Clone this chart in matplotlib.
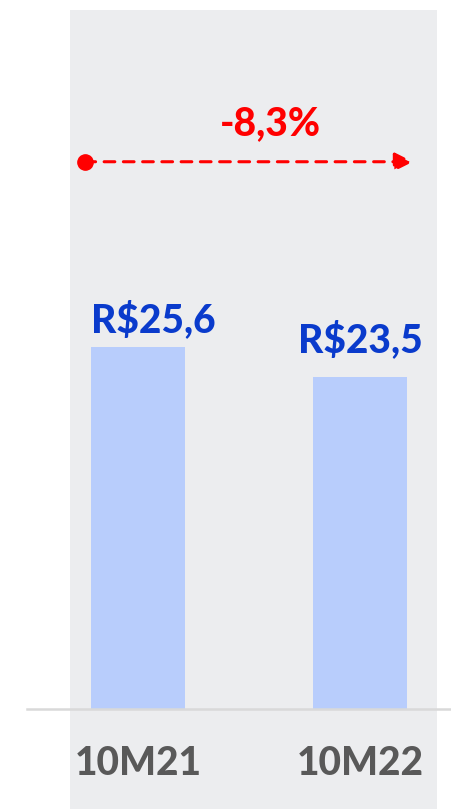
import matplotlib.pyplot as plt

periods = ["10M21", "10M22"]
values = [25.6, 23.5]
value_labels = ["R$25,6", "R$23,5"]
change_label = "-8,3%"

plt.rcParams['font.family'] = ['Lato', 'DejaVu Sans']

fig = plt.figure(figsize=(4.52, 8.09), dpi=100)
ax = fig.add_axes([70 / 452, 0, 367 / 452, 799 / 809])
ax.set_facecolor("#ECEDEF")

pos = list(range(len(periods)))
ax.bar(pos, values, width=0.423, color="#B8CDFC", zorder=2)

ax.set_xlim(-0.306, 1.347)
ax.set_ylim(-7.07, 49.43)
for s in ax.spines.values():
    s.set_visible(False)
ax.set_xticks([])
ax.set_yticks([])

# baseline reaching out of the grey panel
ax.axhline(0, xmin=-0.117, xmax=1.041, color="#D9D9D9", lw=1.8, clip_on=False, zorder=3)

# period labels under the baseline
for p, lab in zip(pos, periods):
    ax.text(p, -4.7, lab, ha="center", va="baseline", fontsize=28,
            fontweight="black", color="#595959")

# value labels
ax.annotate(value_labels[0], (pos[0] - 0.21, values[0]), xytext=(0, 11),
            textcoords="offset points", ha="left", va="baseline",
            fontsize=28, fontweight="black", color="#0A3BCC")
ax.annotate(value_labels[1], (pos[1], values[1]), xytext=(0, 18),
            textcoords="offset points", ha="center", va="baseline",
            fontsize=28, fontweight="black", color="#0A3BCC")

# change arrow
ya = 38.7
ax.plot([pos[0] - 0.239], [ya], marker="o", ms=11, color="red", zorder=4)
ax.annotate("", xy=(pos[1] + 0.239, ya), xytext=(pos[0] - 0.239, ya),
            arrowprops=dict(arrowstyle="-|>,head_length=1.1,head_width=0.55",
                            color="red", lw=2.2, linestyle=(0, (3.5, 2.8)),
                            shrinkA=0, shrinkB=0))
ax.text((pos[0] + pos[1]) / 2 + 0.095, ya + 1.9, change_label, ha="center", va="baseline",
        fontsize=28, fontweight="black", color="red")

plt.savefig("out.png", dpi=100)
